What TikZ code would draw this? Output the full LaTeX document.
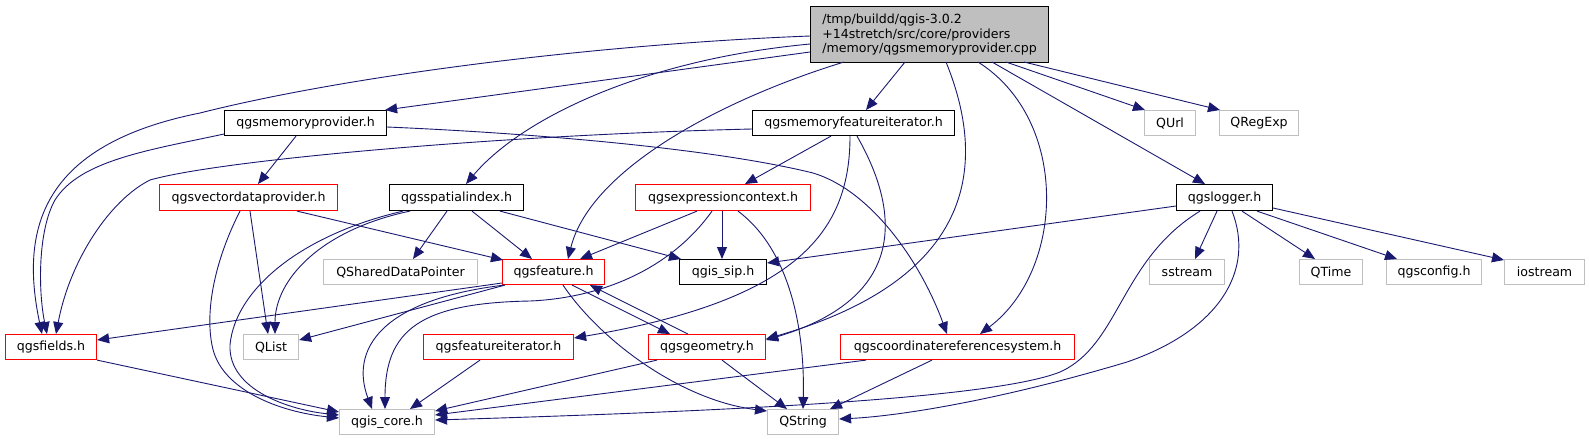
\documentclass[tikz,border=0pt]{standalone}
\usepackage{fontspec}
\setmainfont{DejaVu Sans}
\usetikzlibrary{arrows.meta,calc}
\definecolor{edgeblue}{RGB}{25,25,112}
\definecolor{nodegray}{RGB}{191,191,191}
\begin{document}
\begin{tikzpicture}[x=1pt,y=-1pt,
  nbase/.style={rectangle, inner sep=0pt, minimum height=25pt, line width=1.1pt, fill=white,
    font=\fontsize{12.6}{14.7}\selectfont, anchor=north west},
  blackbox/.style={nbase, draw=black},
  redbox/.style={nbase, draw=red},
  graybox/.style={nbase, draw=nodegray},
  edge/.style={draw=edgeblue, line width=0.9pt, -{Triangle[length=12pt,width=10pt]}}]
\useasboundingbox (0,0) rectangle (1589,440);
% nodes
\node[blackbox, fill=nodegray, minimum width=238pt, minimum height=56pt, align=left] (root) at (810,6)
  {/tmp/buildd/qgis-3.0.2\\+14stretch/src/core/providers\\/memory/qgsmemoryprovider.cpp};
\node[blackbox, minimum width=162pt] (mp) at (224,110) {qgsmemoryprovider.h};
\node[blackbox, minimum width=202pt] (mfi) at (752,110) {qgsmemoryfeatureiterator.h};
\node[graybox, minimum width=51pt] (qurl) at (1144,110) {QUrl};
\node[graybox, minimum width=79pt] (qregexp) at (1219,110) {QRegExp};
\node[redbox, minimum width=178pt, minimum height=26pt] (vdp) at (159,184) {qgsvectordataprovider.h};
\node[blackbox, minimum width=134pt, minimum height=26pt] (si) at (389,184) {qgsspatialindex.h};
\node[redbox, minimum width=175pt, minimum height=26pt] (ec) at (635,184) {qgsexpressioncontext.h};
\node[blackbox, minimum width=96pt, minimum height=26pt] (logger) at (1176,184) {qgslogger.h};
\node[graybox, minimum width=154pt] (qsdp) at (323,259) {QSharedDataPointer};
\node[redbox, minimum width=102pt] (feat) at (502,259) {qgsfeature.h};
\node[blackbox, minimum width=87pt] (sip) at (679,259) {qgis\_sip.h};
\node[graybox, minimum width=75pt] (sstream) at (1149,259) {sstream};
\node[graybox, minimum width=63pt] (qtime) at (1299,259) {QTime};
\node[graybox, minimum width=95pt] (qgsconfig) at (1386,259) {qgsconfig.h};
\node[graybox, minimum width=80pt] (iostream) at (1504,259) {iostream};
\node[redbox, minimum width=91pt] (fields) at (5,334) {qgsfields.h};
\node[graybox, minimum width=55pt] (qlist) at (243,334) {QList};
\node[redbox, minimum width=150pt] (fi) at (423,334) {qgsfeatureiterator.h};
\node[redbox, minimum width=117pt] (geom) at (648,334) {qgsgeometry.h};
\node[redbox, minimum width=234pt] (crs) at (840,334) {qgscoordinatereferencesystem.h};
\node[graybox, minimum width=95pt] (core) at (339,409) {qgis\_core.h};
\node[graybox, minimum width=71pt] (qstring) at (767,409) {QString};
% root edges
\draw[edge] ($(root.north west)+(0,30)$) .. controls (600,44) and (350,75) .. (200,113) .. controls (40,145) and (20,230) .. ($(fields.north west)+(37,0)$);
\draw[edge] ($(root.north west)+(0,46)$) -- ($(mp.north east)+(-2,0)$);
\draw[edge] ($(root.north west)+(0,38)$) .. controls (640,60) and (520,120) .. ($(si.north west)+(77,0)$);
\draw[edge] ($(root.north west)+(95,56)$) -- ($(mfi.north west)+(114,0)$);
\draw[edge] ($(root.north west)+(34,56)$) .. controls (720,100) and (590,170) .. ($(feat.north west)+(66,0)$);
\draw[edge] ($(root.north west)+(136,56)$) .. controls (990,170) and (970,280) .. ($(geom.north east)+(0,5)$);
\draw[edge] ($(root.north west)+(168,56)$) .. controls (1070,120) and (1065,270) .. ($(crs.north west)+(140,0)$);
\draw[edge] ($(root.north west)+(196,56)$) -- ($(qurl.north west)+(1,0)$);
\draw[edge] ($(root.north west)+(214,56)$) -- ($(qregexp.north west)+(1,0)$);
\draw[edge] ($(root.north west)+(182,56)$) -- ($(logger.north west)+(29,0)$);
% qgsmemoryprovider.h
\draw[edge] ($(mp.north west)+(0,24)$) .. controls (150,150) and (80,160) .. (55,200) .. controls (38,230) and (38,290) .. ($(fields.north west)+(42,0)$);
\draw[edge] ($(mp.south west)+(72,0)$) -- ($(vdp.north west)+(99,0)$);
\draw[edge] ($(mp.north east)+(0,17)$) .. controls (550,134) and (720,150) .. (813,173) .. controls (870,190) and (920,260) .. ($(crs.north west)+(107,0)$);
% qgsmemoryfeatureiterator.h
\draw[edge] ($(mfi.north west)+(0,19)$) .. controls (500,135) and (220,160) .. (150,180) .. controls (110,200) and (70,260) .. ($(fields.north west)+(51,0)$);
\draw[edge] ($(mfi.south west)+(79,0)$) -- ($(ec.north west)+(110,0)$);
\draw[edge] ($(mfi.south west)+(98,0)$) .. controls (850,230) and (800,300) .. ($(fi.north east)+(0,4)$);
\draw[edge] ($(mfi.south west)+(105,0)$) .. controls (905,220) and (900,300) .. ($(geom.north east)+(0,6)$);
% qgsvectordataprovider.h
\draw[edge] ($(vdp.south west)+(138,0)$) -- ($(feat.north west)+(1,1)$);
\draw[edge] ($(vdp.south west)+(91,0)$) -- ($(qlist.north west)+(25,0)$);
\draw[edge] ($(vdp.south west)+(81,0)$) .. controls (215,260) and (205,310) .. (212,345) .. controls (220,390) and (280,412) .. ($(core.north west)+(0,9)$);
% qgsspatialindex.h
\draw[edge] ($(si.south west)+(21,0)$) .. controls (320,230) and (275,280) .. ($(qlist.north west)+(32,0)$);
\draw[edge] ($(si.south west)+(58,0)$) -- ($(qsdp.north west)+(90,0)$);
\draw[edge] ($(si.south west)+(83,0)$) -- ($(feat.north west)+(30,0)$);
\draw[edge] ($(si.south west)+(111,0)$) -- ($(sip.north west)+(2,0)$);
\draw[edge] ($(si.south west)+(14,0)$) .. controls (300,235) and (235,290) .. (230,345) .. controls (228,390) and (290,410) .. ($(core.north west)+(0,6)$);
% qgsexpressioncontext.h
\draw[edge] ($(ec.south west)+(62,0)$) -- ($(feat.north west)+(78,0)$);
\draw[edge] ($(ec.south west)+(87,0)$) -- ($(sip.north west)+(43,0)$);
\draw[edge] ($(ec.south west)+(103,0)$) .. controls (790,250) and (805,330) .. ($(qstring.north west)+(36,0)$);
\draw[edge] ($(ec.south west)+(77,0)$) .. controls (670,270) and (600,298) .. (530,301) .. controls (420,303) and (385,330) .. ($(core.north west)+(46,0)$);
% qgslogger.h
\draw[edge] ($(logger.north west)+(0,22)$) -- ($(sip.north east)+(0,4)$);
\draw[edge] ($(logger.south west)+(41,0)$) -- ($(sstream.north west)+(46,0)$);
\draw[edge] ($(logger.south west)+(66,0)$) -- ($(qtime.north west)+(16,0)$);
\draw[edge] ($(logger.south west)+(81,0)$) -- ($(qgsconfig.north west)+(11,0)$);
\draw[edge] ($(logger.north east)+(0,24)$) -- ($(iostream.north west)+(0,1)$);
\draw[edge] ($(logger.south west)+(24,0)$) .. controls (1120,260) and (1120,345) .. (1060,372) .. controls (990,400) and (700,412) .. ($(core.north east)+(0,11)$);
\draw[edge] ($(logger.south west)+(56,0)$) .. controls (1255,270) and (1220,330) .. (1127,362) .. controls (1000,400) and (900,416) .. ($(qstring.north east)+(0,10)$);
% qgsfeature.h
\draw[edge] ($(feat.north west)+(0,24)$) -- ($(fields.north east)+(0,6)$);
\draw[edge] ($(feat.south west)+(3,0)$) -- ($(qlist.north east)+(0,6)$);
\draw[edge] ($(feat.south west)+(2,0)$) .. controls (380,300) and (350,350) .. ($(core.north west)+(33,0)$);
\draw[edge] ($(feat.south west)+(70,0)$) -- ($(geom.north west)+(22,0)$);
\draw[edge] ($(feat.south west)+(61,0)$) .. controls (600,340) and (680,400) .. ($(qstring.north west)+(0,2)$);
% others
\draw[edge] ($(geom.north west)+(40,0)$) -- ($(feat.south west)+(88,0)$);
\draw[edge] (fields.south east) -- ($(core.north west)+(0,3)$);
\draw[edge] ($(fi.south west)+(57,0)$) -- ($(core.north west)+(71,0)$);
\draw[edge] ($(geom.south west)+(9,0)$) -- ($(core.north east)+(0,2)$);
\draw[edge] ($(geom.south west)+(74,0)$) -- ($(qstring.north west)+(20,0)$);
\draw[edge] ($(crs.south west)+(26,0)$) -- ($(core.north east)+(0,6)$);
\draw[edge] ($(crs.south west)+(92,0)$) -- ($(qstring.north west)+(63,0)$);
\end{tikzpicture}
\end{document}
